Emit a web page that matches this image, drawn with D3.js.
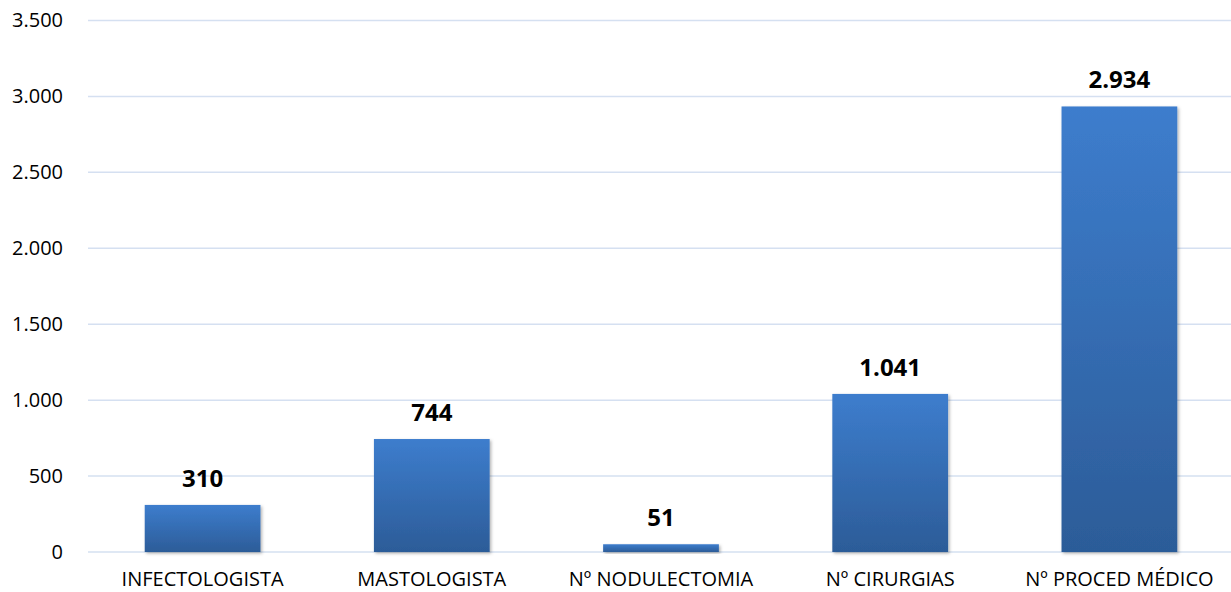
<!DOCTYPE html>
<html>
<head>
<meta charset="utf-8">
<script src="https://cdn.jsdelivr.net/npm/d3@7"></script>
<style>
  body { margin: 0; background: #fff; }
  svg { display: block; font-family: 'Open Sans', sans-serif; }
</style>
</head>
<body>
<div id="chart"></div>
<script>
// data
var categories = ['INFECTOLOGISTA', 'MASTOLOGISTA', 'Nº NODULECTOMIA', 'Nº CIRURGIAS', 'Nº PROCED MÉDICO'];
var values = [310, 744, 51, 1041, 2934];
var yTicks = [0, 500, 1000, 1500, 2000, 2500, 3000, 3500];

var width = 1231, height = 592;
var plotLeft = 88, plotRight = 1234, plotTop = 20.5, plotBottom = 552;

var fmt = d3.formatLocale({ decimal: ',', thousands: '.', grouping: [3], currency: ['', ''] }).format(',d');

var svg = d3.select('#chart').append('svg')
  .attr('width', width)
  .attr('height', height);

var defs = svg.append('defs');
var grad = defs.append('linearGradient')
  .attr('id', 'barGrad')
  .attr('x1', 0).attr('y1', 0).attr('x2', 0).attr('y2', 1);
grad.append('stop').attr('offset', '0%').attr('stop-color', '#3d7dcd');
grad.append('stop').attr('offset', '100%').attr('stop-color', '#2c5c98');

var shadow = defs.append('filter').attr('id', 'shadow')
  .attr('x', '-10%').attr('y', '-10%').attr('width', '130%').attr('height', '130%');
shadow.append('feDropShadow')
  .attr('dx', 1.5).attr('dy', 1.5).attr('stdDeviation', 1.5)
  .attr('flood-color', '#000').attr('flood-opacity', 0.3);

var x = d3.scaleBand()
  .domain(categories)
  .range([plotLeft, plotRight])
  .paddingInner(0.495)
  .paddingOuter(0.2475);

var y = d3.scaleLinear()
  .domain([0, 3500])
  .range([plotBottom, plotTop]);

// gridlines
svg.append('g')
  .selectAll('line')
  .data(yTicks)
  .enter().append('line')
  .attr('x1', plotLeft)
  .attr('x2', width)
  .attr('y1', function (d) { return y(d); })
  .attr('y2', function (d) { return y(d); })
  .attr('stroke', '#d5e0f1')
  .attr('stroke-width', 1.5);

// y axis labels
var yAxis = d3.axisLeft(y)
  .tickValues(yTicks)
  .tickSize(0)
  .tickPadding(0)
  .tickFormat(fmt);

svg.append('g')
  .attr('transform', 'translate(63,0)')
  .call(yAxis)
  .call(function (g) { g.select('.domain').remove(); })
  .selectAll('text')
  .attr('font-family', "'Open Sans', sans-serif")
  .attr('font-size', 20)
  .attr('fill', '#000');

// bars
svg.append('g')
  .selectAll('rect')
  .data(values)
  .enter().append('rect')
  .attr('x', function (d, i) { return x(categories[i]); })
  .attr('y', function (d) { return y(d); })
  .attr('width', x.bandwidth())
  .attr('height', function (d) { return y(0) - y(d); })
  .attr('fill', 'url(#barGrad)')
  .attr('filter', 'url(#shadow)');

// value labels
svg.append('g')
  .selectAll('text')
  .data(values)
  .enter().append('text')
  .attr('x', function (d, i) { return x(categories[i]) + x.bandwidth() / 2; })
  .attr('y', function (d) { return y(d) - 18; })
  .attr('text-anchor', 'middle')
  .attr('font-size', 24)
  .attr('font-weight', 'bold')
  .attr('fill', '#000')
  .text(function (d) { return fmt(d); });

// category labels
var xAxis = d3.axisBottom(x).tickSize(0).tickPadding(0);
svg.append('g')
  .attr('transform', 'translate(0,' + 571.5 + ')')
  .call(xAxis)
  .call(function (g) { g.select('.domain').remove(); })
  .selectAll('text')
  .attr('font-family', "'Open Sans', sans-serif")
  .attr('font-size', 20)
  .attr('fill', '#000');
</script>
</body>
</html>
